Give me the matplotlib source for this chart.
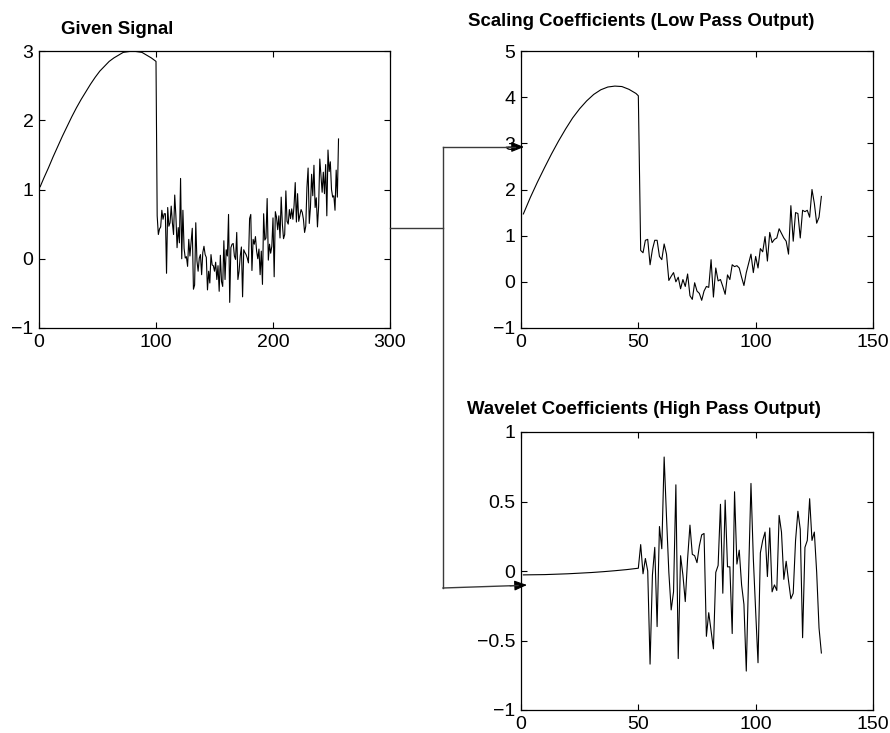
import numpy as np
import matplotlib
matplotlib.use("Agg")
import matplotlib.pyplot as plt
from matplotlib.lines import Line2D
from matplotlib.patches import FancyArrowPatch

plt.rcParams['font.family'] = ['Liberation Sans', 'DejaVu Sans']

# ---------------- data ----------------
# Given signal: smooth part (samples 1..100), noisy part (samples 101..256)
sig_smooth_t = [1, 4, 8, 12, 16, 20, 24, 28, 32, 36, 40, 44, 48, 52, 56, 60, 64, 68,
                72, 76, 80, 84, 88, 92, 96, 100]
sig_smooth = [1.04, 1.16, 1.31, 1.47, 1.62, 1.77, 1.91, 2.05, 2.18, 2.30, 2.41, 2.52,
              2.62, 2.71, 2.78, 2.85, 2.90, 2.94, 2.98, 2.99, 3.00, 2.99, 2.98, 2.94,
              2.90, 2.85]
sig_noisy = [0.62, 0.35, 0.43, 0.46, 0.70, 0.57, 0.65, 0.65, -0.21, 0.74,
             0.47, 0.52, 0.76, 0.52, 0.35, 0.92, 0.62, 0.16, 0.45, 0.23,
             1.16, 0.00, 0.70, 0.15, 0.01, 0.03, -0.11, 0.28, 0.04, 0.25,
             0.44, -0.44, -0.38, 0.52, -0.03, -0.18, 0.01, 0.06, -0.23, 0.09,
             0.18, 0.06, 0.02, -0.45, -0.18, -0.35, 0.06, -0.09, -0.10, -0.18,
             -0.05, -0.30, -0.10, -0.47, 0.05, -0.33, -0.40, 0.26, -0.30, 0.13,
             0.04, 0.64, -0.63, 0.16, 0.21, 0.22, 0.04, -0.01, 0.38, -0.30,
             -0.18, 0.04, 0.17, -0.55, 0.13, 0.09, 0.06, 0.01, -0.06, 0.58,
             0.64, -0.17, 0.28, 0.21, 0.32, 0.11, 0.00, 0.14, -0.23, 0.11,
             -0.37, 0.65, 0.27, 0.30, 0.87, -0.02, 0.21, 0.08, 0.18, 0.59,
             -0.26, 0.68, 0.60, 0.42, 0.62, 0.30, 0.89, 0.50, 0.29, 0.35,
             0.98, 0.54, 0.50, 0.71, 0.58, 0.72, 0.57, 0.77, 1.10, 0.53,
             0.94, 0.54, 0.63, 0.71, 0.67, 0.57, 0.38, 0.47, 1.03, 1.31,
             0.51, 0.74, 1.22, 0.91, 1.35, 0.74, 0.88, 0.46, 0.76, 1.44,
             1.20, 0.96, 1.25, 0.94, 1.36, 0.62, 1.57, 1.26, 1.40, 1.00,
             0.89, 0.91, 0.70, 1.28, 0.89, 1.73]

# Scaling coefficients (low pass): smooth part (k 1..50), noisy part (k 51..128)
scal_smooth_k = [1, 4, 7, 10, 13, 16, 19, 22, 25, 28, 31, 34, 37, 40, 43, 46, 49, 50]
scal_smooth = [1.47, 1.83, 2.16, 2.47, 2.77, 3.05, 3.31, 3.55, 3.75, 3.92, 4.06, 4.16,
               4.22, 4.24, 4.23, 4.17, 4.08, 4.03]
scal_noisy = [0.68, 0.63, 0.90, 0.92, 0.37, 0.70, 0.90, 0.90, 0.55, 0.48,
              0.82, 0.60, 0.03, 0.12, 0.20, 0.00, 0.10, -0.15, 0.05, -0.10,
              0.17, -0.30, -0.38, -0.02, -0.20, -0.25, -0.40, -0.20, -0.10, -0.12,
              0.48, -0.33, 0.30, 0.02, 0.05, -0.10, -0.27, 0.15, 0.05, 0.37,
              0.33, 0.35, 0.30, 0.10, -0.08, 0.20, 0.40, 0.60, 0.20, 0.55,
              0.30, 0.72, 0.65, 0.98, 0.45, 1.07, 0.85, 0.92, 0.95, 1.15,
              1.05, 0.95, 0.88, 0.60, 1.65, 0.88, 1.50, 1.48, 0.95, 1.55,
              1.52, 1.55, 1.40, 2.00, 1.70, 1.27, 1.40, 1.85]

# Wavelet coefficients (high pass): smooth part (k 1..50), noisy part (k 51..128)
wav_smooth_k = [1, 10, 20, 30, 35, 40, 45, 50]
wav_smooth = [-0.028, -0.026, -0.020, -0.011, -0.005, 0.002, 0.010, 0.020]
wav_noisy = [0.19, -0.02, 0.09, 0.00, -0.67, -0.03, 0.17, -0.40, 0.32, 0.16,
             0.82, 0.39, -0.01, -0.28, -0.15, 0.62, -0.63, 0.11, -0.03, -0.22,
             0.09, 0.33, 0.12, 0.11, 0.06, 0.18, 0.26, 0.27, -0.47, -0.30,
             -0.43, -0.56, -0.01, 0.04, 0.48, -0.16, 0.51, 0.03, 0.03, -0.45,
             0.57, 0.05, 0.15, -0.10, -0.24, -0.72, -0.02, 0.63, 0.09, -0.29,
             -0.66, 0.13, 0.22, 0.28, -0.04, 0.31, -0.15, -0.10, -0.14, 0.40,
             0.28, -0.06, 0.07, -0.07, -0.20, -0.16, 0.22, 0.43, 0.30, -0.48,
             0.17, 0.22, 0.52, 0.22, 0.28, -0.01, -0.41, -0.59]

titles = ["Given Signal", "Scaling Coefficients (Low Pass Output)",
          "Wavelet Coefficients (High Pass Output)"]
given_xticks = [0, 100, 200, 300]
given_yticks = [-1, 0, 1, 2, 3]
coef_xticks = [0, 50, 100, 150]
scal_yticks = [-1, 0, 1, 2, 3, 4, 5]
wav_yticks = [-1, -0.5, 0, 0.5, 1]

# ---------------- figure ----------------
W, H = 890, 733
fig = plt.figure(figsize=(W / 100, H / 100), dpi=100)


def px_axes(l, t, r, b):
    return fig.add_axes([l / W, 1 - b / H, (r - l) / W, (b - t) / H])


def style(ax):
    ax.tick_params(direction='in', length=4, width=0.8, top=True, right=True,
                   labelsize=14, pad=4)
    for s in ax.spines.values():
        s.set_linewidth(0.9)


ax1 = px_axes(39, 51, 390, 328)
ax2 = px_axes(521, 51, 873, 328)
ax3 = px_axes(521, 432, 873, 710)

t_all = np.concatenate([sig_smooth_t, np.arange(101, 101 + len(sig_noisy))])
y_all = np.concatenate([sig_smooth, sig_noisy])
ax1.plot(t_all, y_all, color='black', lw=0.8)
ax1.set_xlim(0, 300)
ax1.set_ylim(-1, 3)
ax1.set_xticks(given_xticks)
ax1.set_yticks(given_yticks)
style(ax1)

k_s = np.concatenate([scal_smooth_k, np.arange(51, 51 + len(scal_noisy))])
ax2.plot(k_s, np.concatenate([scal_smooth, scal_noisy]), color='black', lw=0.8)
ax2.set_xlim(0, 150)
ax2.set_ylim(-1, 5)
ax2.set_xticks(coef_xticks)
ax2.set_yticks(scal_yticks)
style(ax2)

k_w = np.concatenate([wav_smooth_k, np.arange(51, 51 + len(wav_noisy))])
ax3.plot(k_w, np.concatenate([wav_smooth, wav_noisy]), color='black', lw=0.8)
ax3.set_xlim(0, 150)
ax3.set_ylim(-1, 1)
ax3.set_xticks(coef_xticks)
ax3.set_yticks(wav_yticks)
ax3.set_yticklabels(['\u22121', '\u22120.5', '0', '0.5', '1'])
style(ax3)

# titles (placed like the original, left-anchored)
fig.text(61 / W, 1 - 29 / H, titles[0], fontsize=13.4, fontweight='bold',
         ha='left', va='center')
fig.text(468 / W, 1 - 21 / H, titles[1], fontsize=13.4, fontweight='bold',
         ha='left', va='center')
fig.text(467 / W, 1 - 409 / H, titles[2], fontsize=13.4, fontweight='bold',
         ha='left', va='center')


# connector lines and arrows (figure pixel coordinates)
def P(x, y):
    return (x / W, 1 - y / H)


lc = '#3a3a3a'
for (x0, y0), (x1, y1) in [((390, 228), (443, 228)),
                           ((443, 147), (443, 588)),
                           ((443, 147), (515, 147)),
                           ((443, 588), (518, 585.5))]:
    a, b = P(x0, y0), P(x1, y1)
    fig.add_artist(Line2D([a[0], b[0]], [a[1], b[1]], transform=fig.transFigure,
                          color=lc, lw=1.0))

for (x0, y0), (x1, y1) in [((508, 147), (524, 147)),
                           ((510, 585.8), (527, 585))]:
    fig.add_artist(FancyArrowPatch(P(x0, y0), P(x1, y1), transform=fig.transFigure,
                                   arrowstyle='-|>,head_length=0.55,head_width=0.22',
                                   mutation_scale=14, color='black', lw=0.8,
                                   shrinkA=0, shrinkB=0))

fig.savefig('out.png', dpi=100)
